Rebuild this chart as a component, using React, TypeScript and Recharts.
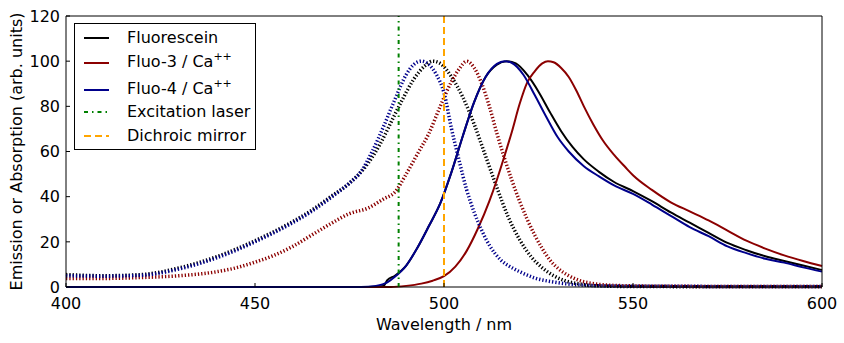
import React from 'react';
import { ComposedChart, Line, XAxis, YAxis, ReferenceLine, Legend } from 'recharts';

// [wavelength (nm), intensity] pairs
const fluoresceinAbsorption: [number, number][] = [
  [400, 5.5], [410, 5], [420, 5.5], [430, 8.5], [440, 13.5], [450, 20.5], [460, 29], [465, 34],
  [470, 40], [475, 46], [480, 55], [483, 63], [486, 73], [489, 83], [492, 92], [495, 98],
  [497, 100], [499, 99], [502, 93], [505, 84], [508, 72], [511, 58], [514, 44], [517, 31],
  [520, 21], [523, 13.5], [526, 8.5], [529, 5], [532, 2.8], [536, 1.3], [540, 0.6], [550, 0.2],
  [600, 0.1],
];
const fluoresceinEmission: [number, number][] = [
  [400, 0], [480, 0], [484, 0.5], [485, 3], [487, 5], [490, 9.5], [493, 17.5], [496, 27],
  [499, 37], [502, 51], [505, 67], [508, 82], [511, 93], [514, 98.5], [516.5, 100], [519, 99],
  [522, 94], [525, 86.5], [528, 77.5], [531, 69], [534, 62], [537, 56.5], [541, 51], [545, 46.5],
  [550, 42.5], [555, 38], [560, 33], [565, 28.5], [570, 24], [575, 19.5], [580, 16.3],
  [585, 13.6], [590, 11.5], [595, 9.5], [600, 7.5],
];
const fluo3Absorption: [number, number][] = [
  [400, 3.8], [410, 3.8], [420, 4.2], [430, 5], [440, 6.8], [445, 8.5], [450, 11], [455, 14],
  [460, 18], [465, 23], [470, 28], [475, 32.5], [480, 35], [484, 39], [487, 42], [490, 50],
  [493, 59], [496, 68], [499, 80], [502, 91], [504, 96.5], [506, 100], [508, 97], [510, 90],
  [512, 80], [514, 68], [516, 57], [518, 47], [520, 38], [522, 30], [524, 23], [526, 17],
  [528, 12], [530, 8.5], [533, 5], [536, 2.8], [540, 1.4], [545, 0.7], [560, 0.3], [600, 0.2],
];
const fluo3Emission: [number, number][] = [
  [400, 0], [486, 0], [490, 0.5], [494, 1.5], [497, 2.8], [500, 4.8], [503, 9], [506, 16],
  [509, 26], [512, 38], [514, 47.5], [516, 58], [518, 69], [520, 81], [522, 90.5], [524, 95.5],
  [526, 99], [527.5, 100], [529, 99.5], [531, 97], [533, 93], [535, 87], [537, 80], [539.5, 72],
  [542, 65], [545, 58.5], [548, 53], [550, 49.5], [555, 43], [560, 37.5], [565, 33.5],
  [570, 29.5], [575, 25], [580, 20.5], [585, 17], [590, 14], [595, 11.5], [600, 9.3],
];
const fluo4Absorption: [number, number][] = [
  [400, 5], [410, 4.8], [420, 5.2], [430, 8], [440, 13], [450, 20], [460, 28.5], [465, 33.5],
  [470, 39.5], [475, 46], [478, 51], [481, 60], [484, 71], [487, 83], [490, 94], [492, 98.5],
  [494, 100], [496, 98.5], [498, 94], [500, 86], [502, 70], [504, 56], [506, 43], [508, 33],
  [510, 25], [512, 18.5], [515, 12], [518, 8.5], [520, 6.8], [524, 4], [529, 2.2], [535, 1],
  [545, 0.4], [600, 0.2],
];
const fluo4Emission: [number, number][] = [
  [400, 0], [478, 0], [482, 0.5], [485, 2], [487, 4.5], [490, 9.5], [493, 17.5], [496, 27],
  [499, 37], [502, 51], [505, 67], [508, 82], [511, 93], [514, 98.8], [516, 100], [518, 99.2],
  [521, 94], [524, 85], [527, 75.5], [530, 66.5], [533, 60], [537, 53.5], [541, 49], [545, 45],
  [550, 41.2], [555, 36.5], [560, 31.5], [565, 26.5], [570, 22.5], [575, 18], [580, 15],
  [585, 12.5], [590, 10.8], [595, 8.7], [600, 6.8],
];

const excitationNm = 488;
const dichroicNm = 500;

const xTicks = [400, 450, 500, 550, 600];
const yTicks = [0, 20, 40, 60, 80, 100, 120];

const legendLabels = ['Fluorescein', 'Fluo-3 / Ca', 'Fluo-4 / Ca', 'Excitation laser', 'Dichroic mirror'];
const legendSup = ['', '++', '++', '', ''];

const FONT = '"DejaVu Sans", sans-serif';
const BLACK = '#000000';
const RED = '#8b0000';
const BLUE = '#00008b';
const GREEN = '#008000';
const ORANGE = '#ffa500';
const DOTS = '1.3 2';
const DOT_WIDTH = 3.5;
const DASH_DOT = '4 4 1.5 4';
const DASHED = '7 4';
const TICK_LEN = 4;

const toRows = (pts: [number, number][]) => pts.map(([nm, v]) => ({ nm, v }));

const BottomTick = (props: any) => {
  const { x, y, payload } = props;
  return (
    <g>
      <line x1={x} y1={y} x2={x} y2={y - TICK_LEN} stroke="#000" />
      <text x={x} y={y + 22} textAnchor="middle" fontSize={16} fontFamily={FONT} fill="#000">
        {payload.value}
      </text>
    </g>
  );
};
const TopTick = (props: any) => (
  <line x1={props.x} y1={props.y} x2={props.x} y2={props.y + TICK_LEN} stroke="#000" />
);
const LeftTick = (props: any) => {
  const { x, y, payload } = props;
  return (
    <g>
      <line x1={x} y1={y} x2={x + TICK_LEN} y2={y} stroke="#000" />
      <text x={x - 6} y={y + 5.8} textAnchor="end" fontSize={16} fontFamily={FONT} fill="#000">
        {payload.value}
      </text>
    </g>
  );
};
const RightTick = (props: any) => (
  <line x1={props.x} y1={props.y} x2={props.x - TICK_LEN} y2={props.y} stroke="#000" />
);

const xTitle = (props: any) => {
  const vb = props.viewBox;
  return (
    <text x={vb.x + vb.width / 2} y={vb.y + 43} textAnchor="middle" fontSize={16} fontFamily={FONT} fill="#000">
      Wavelength / nm
    </text>
  );
};
const yTitle = (props: any) => {
  const vb = props.viewBox;
  const cx = 22;
  const cy = vb.y + vb.height / 2;
  return (
    <text x={cx} y={cy} transform={`rotate(-90, ${cx}, ${cy})`} textAnchor="middle" fontSize={16} fontFamily={FONT} fill="#000">
      Emission or Absorption (arb. units)
    </text>
  );
};

// legend rows: sample line + label, laid out like the matplotlib legend box
const legendStyles = [
  { color: BLACK, dash: '' },
  { color: RED, dash: '' },
  { color: BLUE, dash: '' },
  { color: GREEN, dash: DASH_DOT },
  { color: ORANGE, dash: DASHED },
];
const rowCenters = [13.5, 38.7, 65.7, 87.7, 112];

const LegendBox = () => (
  <div
    style={{
      position: 'relative', width: 182, height: 127, boxSizing: 'border-box',
      border: '1px solid #000', background: '#fff', fontFamily: FONT, fontSize: 16, color: '#000',
    }}
  >
    {legendLabels.map((label, i) => (
      <div key={label} style={{ position: 'absolute', left: 0, top: rowCenters[i] - 12, height: 24, display: 'flex', alignItems: 'center' }}>
        <svg width={52} height={24} style={{ display: 'block' }}>
          <line x1={9} x2={34} y1={12} y2={12} stroke={legendStyles[i].color} strokeWidth={2}
            strokeDasharray={legendStyles[i].dash || undefined} />
        </svg>
        <span style={{ whiteSpace: 'nowrap', lineHeight: '24px' }}>
          {label}
          {legendSup[i] && <span style={{ fontSize: 11, position: 'relative', top: -7 }}>{legendSup[i]}</span>}
        </span>
      </div>
    ))}
  </div>
);

export default function App() {
  return (
    <div style={{ position: 'absolute', left: 0, top: 0, background: '#fff' }}>
      <ComposedChart width={844} height={343} margin={{ top: 15, right: 21, bottom: 16, left: 6 }}>
        <XAxis
          xAxisId="bottom" dataKey="nm" type="number" domain={[400, 600]} ticks={xTicks}
          height={40} tickSize={0} tickMargin={0} tick={<BottomTick />}
          axisLine={{ stroke: '#000' }} label={xTitle}
        />
        <XAxis
          xAxisId="top" orientation="top" dataKey="nm" type="number" domain={[400, 600]} ticks={xTicks}
          height={1} tickSize={0} tickMargin={0} tick={<TopTick />} axisLine={{ stroke: '#000' }}
        />
        <YAxis
          yAxisId="left" type="number" domain={[0, 120]} ticks={yTicks} width={60}
          tickSize={0} tickMargin={0} tick={<LeftTick />} axisLine={{ stroke: '#000' }} label={yTitle}
        />
        <YAxis
          yAxisId="right" orientation="right" type="number" domain={[0, 120]} ticks={yTicks} width={1}
          tickSize={0} tickMargin={0} tick={<RightTick />} axisLine={{ stroke: '#000' }}
        />
        <Legend
          content={() => <LegendBox />}
          layout="horizontal" verticalAlign="middle" align="center"
          wrapperStyle={{ left: 74, top: 23, width: 182, height: 127 }}
        />

        <Line data={toRows(fluoresceinAbsorption)} dataKey="v" xAxisId="bottom" yAxisId="left" type="monotone"
          stroke={BLACK} strokeWidth={DOT_WIDTH} strokeDasharray={DOTS} dot={false} isAnimationActive={false} />
        <Line data={toRows(fluoresceinEmission)} dataKey="v" xAxisId="bottom" yAxisId="left" type="monotone"
          stroke={BLACK} strokeWidth={2} dot={false} isAnimationActive={false} />
        <Line data={toRows(fluo3Absorption)} dataKey="v" xAxisId="bottom" yAxisId="left" type="monotone"
          stroke={RED} strokeWidth={DOT_WIDTH} strokeDasharray={DOTS} dot={false} isAnimationActive={false} />
        <Line data={toRows(fluo3Emission)} dataKey="v" xAxisId="bottom" yAxisId="left" type="monotone"
          stroke={RED} strokeWidth={2} dot={false} isAnimationActive={false} />
        <Line data={toRows(fluo4Absorption)} dataKey="v" xAxisId="bottom" yAxisId="left" type="monotone"
          stroke={BLUE} strokeWidth={DOT_WIDTH} strokeDasharray={DOTS} dot={false} isAnimationActive={false} />
        <Line data={toRows(fluo4Emission)} dataKey="v" xAxisId="bottom" yAxisId="left" type="monotone"
          stroke={BLUE} strokeWidth={2} dot={false} isAnimationActive={false} />

        <ReferenceLine x={excitationNm} xAxisId="bottom" yAxisId="left" stroke={GREEN} strokeWidth={2} strokeDasharray={DASH_DOT} />
        <ReferenceLine x={dichroicNm} xAxisId="bottom" yAxisId="left" stroke={ORANGE} strokeWidth={2} strokeDasharray={DASHED} />
      </ComposedChart>
    </div>
  );
}
